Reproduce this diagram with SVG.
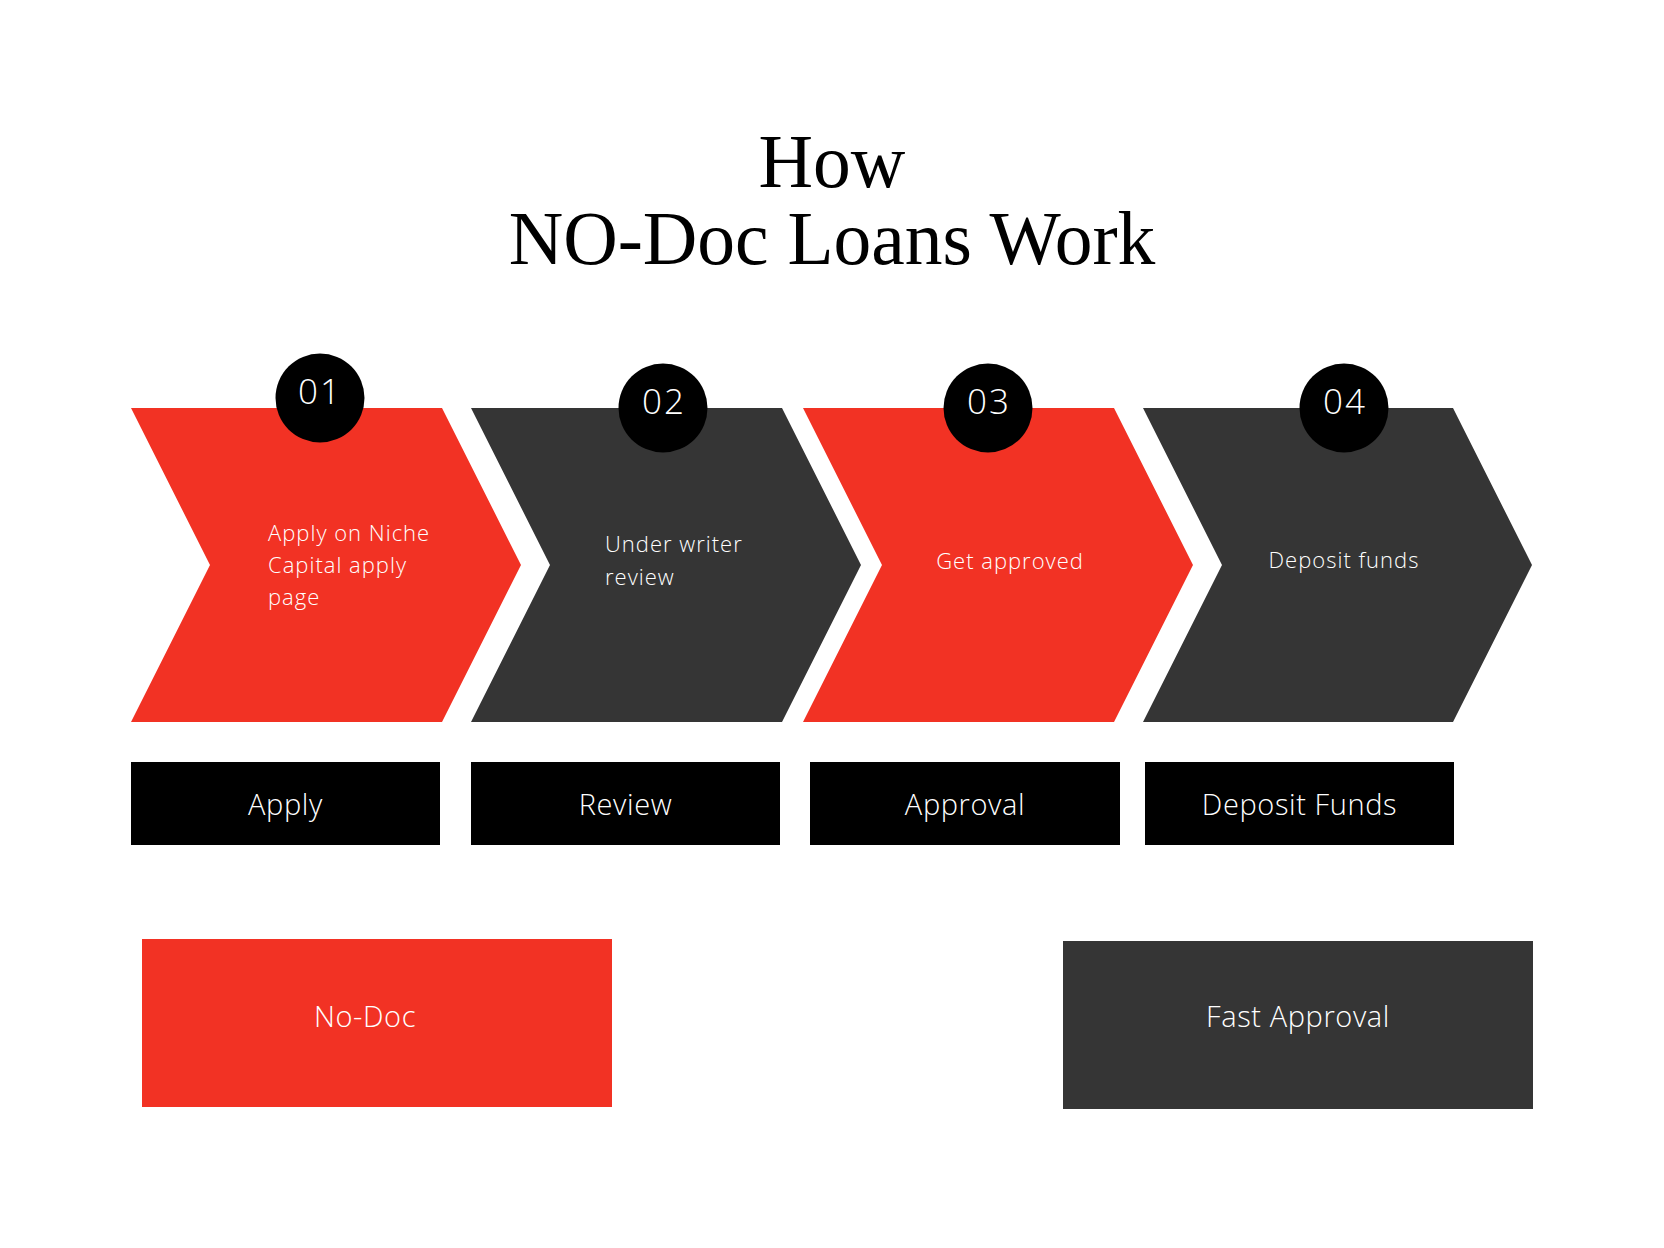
<svg xmlns="http://www.w3.org/2000/svg" width="1664" height="1248" viewBox="0 0 1664 1248">
<style>
.red{fill:#f23224}
.dark{fill:#353535}
.blk{fill:#000}
.title{font-family:"Liberation Serif","Times New Roman",serif;font-size:75.5px;fill:#000;text-anchor:middle}
.num{font-family:"Open Sans","Lato",sans-serif;font-weight:300;font-size:35px;fill:#fff;text-anchor:middle;letter-spacing:2px}
.body{font-family:"Open Sans","Lato",sans-serif;font-weight:300;font-size:22px;fill:#fff;letter-spacing:1px}
.lbl{font-family:"Open Sans","Lato",sans-serif;font-weight:300;font-size:29px;fill:#fff;text-anchor:middle;letter-spacing:0.6px}
</style>
<rect width="1664" height="1248" fill="#fff"/>
<g id="title">
<text class="title" x="832" y="187">How</text>
<text class="title" x="832" y="264">NO-Doc Loans Work</text>
</g>
<g id="connectors"/>
<g id="step1">
<polygon class="red" points="131,408 442,408 521,565 442,722 131,722 210,565"/>
<circle class="blk" cx="320" cy="398" r="44.5"/>
<text class="num" x="320" y="404">01</text>
<text class="body" x="268" y="541">Apply on Niche</text>
<text class="body" x="268" y="573">Capital apply</text>
<text class="body" x="268" y="605">page</text>
</g>
<g id="step2">
<polygon class="dark" points="471,408 782,408 861,565 782,722 471,722 550,565"/>
<circle class="blk" cx="663" cy="408" r="44.5"/>
<text class="num" x="664" y="414">02</text>
<text class="body" x="605" y="552">Under writer</text>
<text class="body" x="605" y="585">review</text>
</g>
<g id="step3">
<polygon class="red" points="803,408 1114,408 1193,565 1114,722 803,722 882,565"/>
<circle class="blk" cx="988" cy="408" r="44.5"/>
<text class="num" x="989" y="414">03</text>
<text class="body" x="1010" y="569" text-anchor="middle">Get approved</text>
</g>
<g id="step4">
<polygon class="dark" points="1143,408 1453,408 1532,565 1453,722 1143,722 1222,565"/>
<circle class="blk" cx="1344" cy="408" r="44.5"/>
<text class="num" x="1345" y="414">04</text>
<text class="body" x="1344" y="568" text-anchor="middle">Deposit funds</text>
</g>
<g id="label-apply">
<rect class="blk" x="131" y="762" width="309" height="83"/>
<text class="lbl" x="285.5" y="815">Apply</text>
</g>
<g id="label-review">
<rect class="blk" x="471" y="762" width="309" height="83"/>
<text class="lbl" x="625.5" y="815">Review</text>
</g>
<g id="label-approval">
<rect class="blk" x="810" y="762" width="310" height="83"/>
<text class="lbl" x="965" y="815">Approval</text>
</g>
<g id="label-deposit">
<rect class="blk" x="1145" y="762" width="309" height="83"/>
<text class="lbl" x="1299.5" y="815">Deposit Funds</text>
</g>
<g id="nodoc">
<rect class="red" x="142" y="939" width="470" height="168"/>
<text class="lbl" x="365" y="1027">No-Doc</text>
</g>
<g id="fast-approval">
<rect class="dark" x="1063" y="941" width="470" height="168"/>
<text class="lbl" x="1298" y="1027">Fast Approval</text>
</g>
</svg>
